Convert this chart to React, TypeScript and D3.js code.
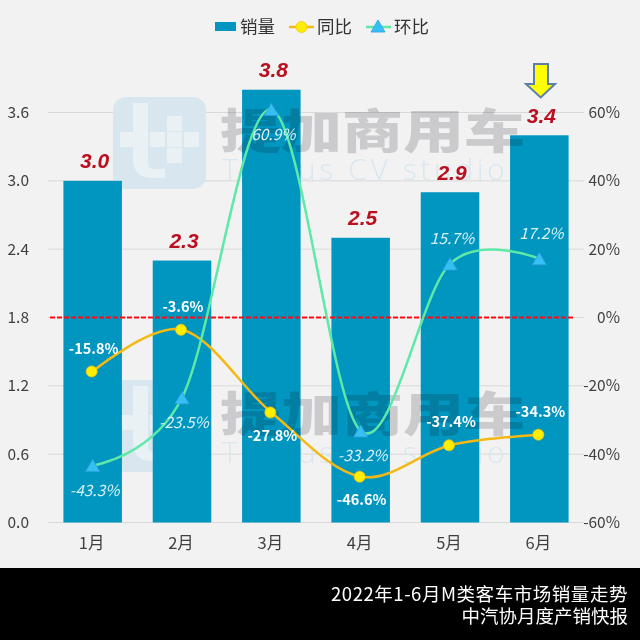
import { useEffect, useRef } from "react";
import * as d3 from "d3";

const months = ["1月", "2月", "3月", "4月", "5月", "6月"];
const sales = [3.0, 2.3, 3.8, 2.5, 2.9, 3.4];
const yoy = [-15.8, -3.6, -27.8, -46.6, -37.4, -34.3];
const mom = [-43.3, -23.5, 60.9, -33.2, 15.7, 17.2];
const salesTicks = [0, 0.6, 1.2, 1.8, 2.4, 3.0, 3.6];
const pctTicks = [-60, -40, -20, 0, 20, 40, 60];
const titleLines = ["2022年1-6月M类客车市场销量走势", "中汽协月度产销快报"];

// label above (-1) or below (1) the marker
const yoySide = [-1, -1, 1, 1, -1, -1];
const momSide = [1, 1, 1, 1, -1, -1];

const FONT = "'Noto Sans CJK SC', 'Noto Sans', sans-serif";
const LATIN = "'Liberation Sans', Arial, sans-serif";
const BLUE = "#0196bf";
const YELLOW_LINE = "#f4b914";
const GREEN_LINE = "#5ee9a8";

const width = 640;
const height = 640;
const margin = { top: 112.5, right: 56, bottom: 117.5, left: 48 };

export default function App() {
  const svgRef = useRef<SVGSVGElement | null>(null);

  useEffect(() => {
    const svg = d3.select(svgRef.current);
    svg.selectAll("*").remove();

    const plotBottom = height - margin.bottom;
    const plotRight = width - margin.right;

    const x = d3
      .scaleBand<string>()
      .domain(months)
      .range([margin.left, plotRight])
      .paddingInner(0.345)
      .paddingOuter(0.1725);
    const y = d3.scaleLinear().domain([0, 3.6]).range([plotBottom, margin.top]);
    const yPct = d3.scaleLinear().domain([-60, 60]).range([plotBottom, margin.top]);
    const cx = (i: number) => (x(months[i]) as number) + x.bandwidth() / 2;

    svg.append("rect").attr("width", width).attr("height", height).attr("fill", "#f2f2f2");

    // grid
    svg
      .append("g")
      .selectAll("line")
      .data(salesTicks)
      .join("line")
      .attr("x1", margin.left)
      .attr("x2", plotRight)
      .attr("y1", (d) => y(d))
      .attr("y2", (d) => y(d))
      .attr("stroke", "#d9d9d9")
      .attr("stroke-width", 1);

    // watermark parts that sit behind the bars
    [0, 283].forEach((dy) => {
      const g = svg.append("g").attr("transform", `translate(0,${dy})`);
      g.append("rect")
        .attr("x", 113)
        .attr("y", 97)
        .attr("width", 93)
        .attr("height", 92)
        .attr("rx", 13)
        .attr("fill", "#d7e6ef");
      const white = "#eaf1f5";
      g.append("path")
        .attr("d", "M133 103h15v60q0 6 6 6h11v9h-13q-19 0-19-19z")
        .attr("fill", white);
      [
        [120, 132],
        [150, 132],
        [167, 132],
        [184, 132],
        [167, 116],
        [167, 148],
      ].forEach(([bx, by]) =>
        g.append("rect").attr("x", bx).attr("y", by).attr("width", 15).attr("height", 15).attr("fill", white)
      );
      g.append("text")
        .attr("x", 222)
        .attr("y", 180)
        .attr("font-family", "'Open Sans', sans-serif")
        .attr("font-weight", 300)
        .attr("font-size", 30)
        .attr("letter-spacing", 3.6)
        .attr("fill", "#d9e7ef")
        .text("Tt Plus CV studio");
    });

    // bars
    svg
      .append("g")
      .selectAll("rect")
      .data(sales)
      .join("rect")
      .attr("x", (_, i) => x(months[i]) as number)
      .attr("y", (d) => y(d))
      .attr("width", x.bandwidth())
      .attr("height", (d) => plotBottom - y(d))
      .attr("fill", BLUE);

    // grey watermark text lies over the bars
    [0, 283].forEach((dy) => {
      svg
        .append("text")
        .attr("transform", `translate(220,${148 + dy}) scale(1.13,0.87)`)
        .attr("font-family", FONT)
        .attr("font-weight", 900)
        .attr("font-size", 54)
        .attr("fill", "#d6d6d9")
        .style("mix-blend-mode", "multiply")
        .text("提加商用车");
    });

    // axes
    const axisLeft = svg
      .append("g")
      .attr("transform", `translate(${margin.left},0)`)
      .call(d3.axisLeft(y).tickValues(salesTicks).tickFormat(d3.format(".1f")).tickSize(0).tickPadding(19));
    const axisRight = svg
      .append("g")
      .attr("transform", `translate(${plotRight},0)`)
      .call(d3.axisRight(yPct).tickValues(pctTicks).tickFormat((d) => `${d}%`).tickSize(0).tickPadding(36));
    axisRight.selectAll("text").attr("text-anchor", "end");
    const axisBottom = svg
      .append("g")
      .attr("transform", `translate(0,${plotBottom})`)
      .call(d3.axisBottom(x).tickSize(0).tickPadding(15));
    [axisLeft, axisRight, axisBottom].forEach((a) => {
      a.select(".domain").remove();
      a.selectAll("text")
        .attr("fill", "#404040")
        .attr("font-family", FONT)
        .attr("font-size", 15.5);
    });
    axisBottom.selectAll("text").attr("font-size", 16.5).attr("dx", -1);

    // red zero line
    svg
      .append("line")
      .attr("x1", 50)
      .attr("x2", 575)
      .attr("y1", yPct(0))
      .attr("y2", yPct(0))
      .attr("stroke", "#ff0a14")
      .attr("stroke-width", 1.8)
      .attr("stroke-dasharray", "5 2");

    // lines
    const line = d3
      .line<number>()
      .x((_, i) => cx(i))
      .y((d) => yPct(d))
      .curve(d3.curveCardinal.tension(0));

    svg
      .append("path")
      .attr("d", line(yoy))
      .attr("fill", "none")
      .attr("stroke", YELLOW_LINE)
      .attr("stroke-width", 2.5);
    svg
      .append("path")
      .attr("d", line(mom))
      .attr("fill", "none")
      .attr("stroke", GREEN_LINE)
      .attr("stroke-width", 2.5);

    const triangle = d3.symbol().type(d3.symbolTriangle).size(85);

    svg
      .append("g")
      .selectAll("path")
      .data(mom)
      .join("path")
      .attr("d", triangle)
      .attr("transform", (d, i) => `translate(${cx(i)},${yPct(d) + 2})`)
      .attr("fill", "#36bff2")
      .attr("stroke", "#2f9fe0")
      .attr("stroke-width", 0.8);

    svg
      .append("g")
      .selectAll("circle")
      .data(yoy)
      .join("circle")
      .attr("cx", (_, i) => cx(i) - 1)
      .attr("cy", (d) => yPct(d))
      .attr("r", 5.5)
      .attr("fill", "#ffee00")
      .attr("stroke", "#f4c70c")
      .attr("stroke-width", 0.8);

    // data labels
    svg
      .append("g")
      .selectAll("text")
      .data(sales)
      .join("text")
      .attr("x", (_, i) => cx(i) + 2)
      .attr("y", (d) => y(d) - 20)
      .attr("dy", "0.35em")
      .attr("text-anchor", "middle")
      .attr("font-family", LATIN)
      .attr("font-style", "italic")
      .attr("font-weight", 700)
      .attr("font-size", 21)
      .attr("fill", "#b90f1f")
      .text((d) => d.toFixed(1));

    svg
      .append("g")
      .selectAll("text")
      .data(yoy)
      .join("text")
      .attr("x", (_, i) => cx(i) + 1)
      .attr("y", (d, i) => yPct(d) + yoySide[i] * 23)
      .attr("dy", "0.35em")
      .attr("text-anchor", "middle")
      .attr("font-family", FONT)
      .attr("font-weight", 700)
      .attr("font-size", 14.5)
      .attr("fill", "#ffffff")
      .text((d) => `${d}%`);

    svg
      .append("g")
      .selectAll("text")
      .data(mom)
      .join("text")
      .attr("x", (_, i) => cx(i) + 2)
      .attr("y", (d, i) => yPct(d) + momSide[i] * 25)
      .attr("dy", "0.35em")
      .attr("text-anchor", "middle")
      .attr("font-family", FONT)
      .attr("font-style", "italic")
      .attr("font-size", 15.5)
      .attr("fill", "#d8f2fa")
      .text((d) => `${d}%`);

    // arrow over June
    svg
      .append("path")
      .attr("d", "M534 64H548V84H555L540.7 97.5L526 84H534Z")
      .attr("fill", "#ffff00")
      .attr("stroke", "#5b7fa8")
      .attr("stroke-width", 2);

    // legend
    const legend = svg.append("g");
    const legendText = (tx: number, label: string) =>
      legend
        .append("text")
        .attr("x", tx)
        .attr("y", 27)
        .attr("dy", "0.35em")
        .attr("font-family", FONT)
        .attr("font-size", 17.5)
        .attr("fill", "#333333")
        .text(label);
    legend.append("rect").attr("x", 215).attr("y", 22).attr("width", 21).attr("height", 9).attr("fill", BLUE);
    legendText(240, "销量");
    legend.append("line").attr("x1", 289).attr("x2", 314).attr("y1", 27).attr("y2", 27).attr("stroke", YELLOW_LINE).attr("stroke-width", 2.5);
    legend.append("circle").attr("cx", 301.5).attr("cy", 27).attr("r", 5.5).attr("fill", "#ffee00").attr("stroke", "#f4c70c").attr("stroke-width", 0.8);
    legendText(317, "同比");
    legend.append("line").attr("x1", 366).attr("x2", 391).attr("y1", 27).attr("y2", 27).attr("stroke", GREEN_LINE).attr("stroke-width", 2.5);
    legend.append("path").attr("d", triangle).attr("transform", "translate(378,28)").attr("fill", "#36bff2").attr("stroke", "#2f9fe0").attr("stroke-width", 0.8);
    legendText(394, "环比");

    // black footer
    svg.append("rect").attr("y", 568).attr("width", width).attr("height", 72).attr("fill", "#000000");
    svg
      .append("g")
      .selectAll("text")
      .data(titleLines)
      .join("text")
      .attr("x", 628)
      .attr("y", (_, i) => 594.5 + i * 22)
      .attr("dy", "0.35em")
      .attr("text-anchor", "end")
      .attr("font-family", FONT)
      .attr("font-size", 18.5)
      .attr("letter-spacing", (_, i) => (i === 0 ? 0.55 : 0))
      .attr("fill", "#ffffff")
      .text((d) => d);
  }, []);

  return (
    <svg
      ref={svgRef}
      width={width}
      height={height}
      style={{ position: "absolute", left: 0, top: 0, display: "block" }}
    ></svg>
  );
}
